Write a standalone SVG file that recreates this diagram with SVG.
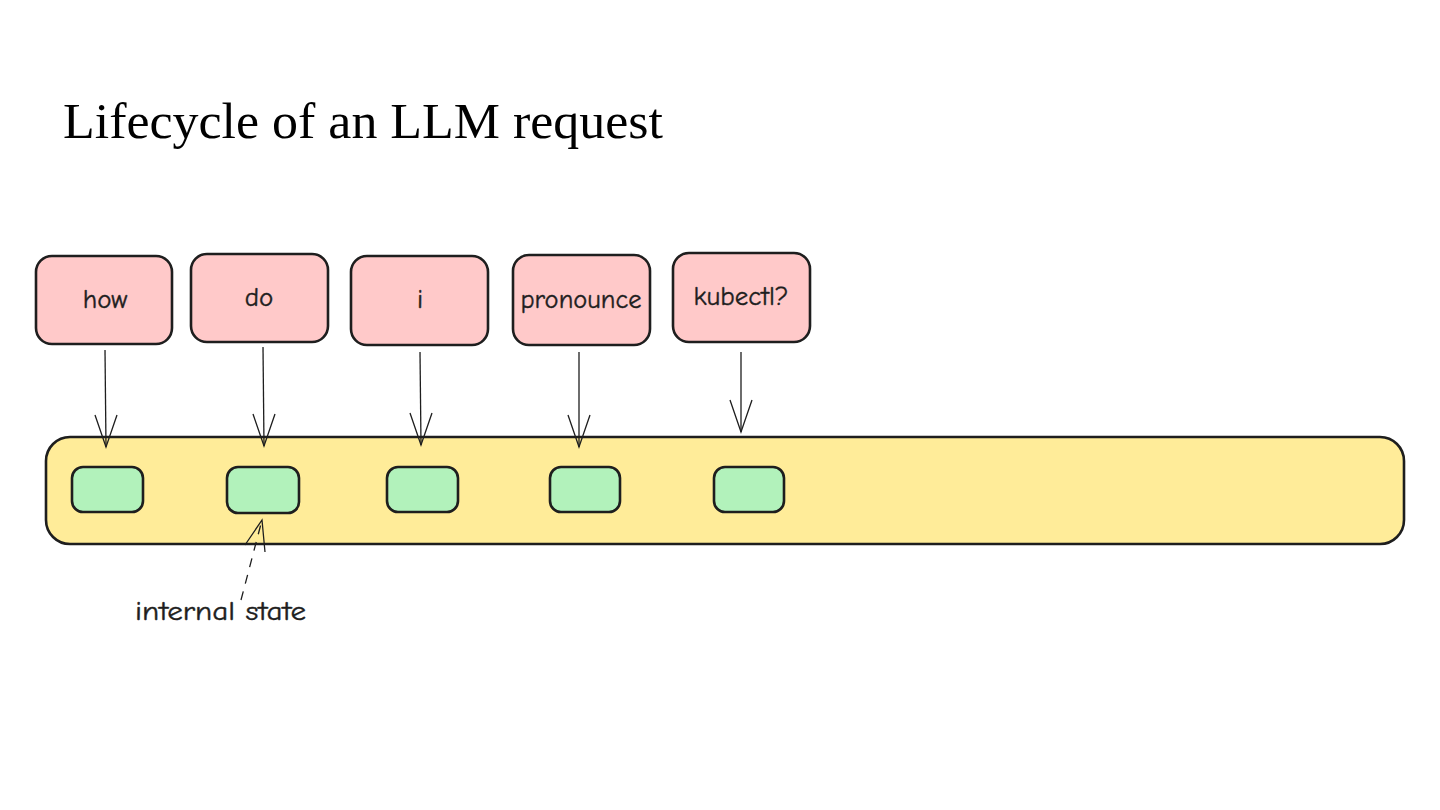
<svg xmlns="http://www.w3.org/2000/svg" width="1440" height="810" viewBox="0 0 1440 810">
<defs>
<style>
.tok rect{fill:#ffc9c9;stroke:#1e1e1e;stroke-width:2.6}
.tok text{font-family:"Comic Neue","Liberation Sans","DejaVu Sans",sans-serif;font-size:27px;fill:#1e1e1e;text-anchor:middle;dominant-baseline:central;stroke:#1e1e1e;stroke-width:0.4}
.st rect{fill:#b2f2bb;stroke:#1e1e1e;stroke-width:2.6}
.conn line,.conn path{stroke:#1e1e1e;stroke-width:1.3;fill:none}
.lbl{font-family:"Comic Neue","Liberation Sans","DejaVu Sans",sans-serif;font-size:26px;fill:#1e1e1e;stroke:#1e1e1e;stroke-width:0.4}
</style>
</defs>
<rect width="1440" height="810" fill="#ffffff"/>
<text x="63" y="138" font-family="'Liberation Serif','DejaVu Serif',serif" font-size="50" fill="#000" textLength="600" lengthAdjust="spacingAndGlyphs">Lifecycle of an LLM request</text>

<g id="bar"><rect x="46" y="437" width="1358" height="107" rx="24" fill="#ffec99" stroke="#1e1e1e" stroke-width="2.6"/></g>

<g id="tok-how" class="tok"><rect x="36" y="256" width="136" height="88" rx="16"/><text x="105" y="299">how</text></g>
<g id="tok-do" class="tok"><rect x="191" y="254" width="137" height="88" rx="16"/><text x="259" y="297">do</text></g>
<g id="tok-i" class="tok"><rect x="351" y="256" width="137" height="89" rx="16"/><text x="420" y="299">i</text></g>
<g id="tok-pronounce" class="tok"><rect x="513" y="255" width="137" height="90" rx="16"/><text x="581" y="299" textLength="121" lengthAdjust="spacingAndGlyphs">pronounce</text></g>
<g id="tok-kubectl" class="tok"><rect x="673" y="253" width="137" height="89" rx="16"/><text x="741" y="296">kubectl?</text></g>

<g id="state-1" class="st"><rect x="72" y="467" width="71" height="45" rx="11"/></g>
<g id="state-2" class="st"><rect x="227" y="467" width="72" height="46" rx="11"/></g>
<g id="state-3" class="st"><rect x="387" y="467" width="71" height="45" rx="11"/></g>
<g id="state-4" class="st"><rect x="550" y="467" width="70" height="45" rx="11"/></g>
<g id="state-5" class="st"><rect x="714" y="467" width="70" height="45" rx="11"/></g>

<g id="connectors" class="conn">
<line x1="105" y1="350" x2="106" y2="447"/><path d="M95 415 L106 447 L117 415"/>
<line x1="263" y1="347" x2="264" y2="446"/><path d="M253 414 L264 446 L275 414"/>
<line x1="420" y1="352" x2="421" y2="445"/><path d="M410 413 L421 445 L432 413"/>
<line x1="579" y1="352" x2="579" y2="447"/><path d="M568 415 L579 447 L590 415"/>
<line x1="741" y1="352" x2="741" y2="432"/><path d="M730 400 L741 432 L752 400"/>
<line x1="241" y1="600" x2="262" y2="520" stroke-dasharray="9 8"/><path d="M245 545 L262 520 L265 552"/>
</g>

<g id="label-internal"><text class="lbl" x="135" y="620" textLength="171" lengthAdjust="spacingAndGlyphs">internal state</text></g>
</svg>
